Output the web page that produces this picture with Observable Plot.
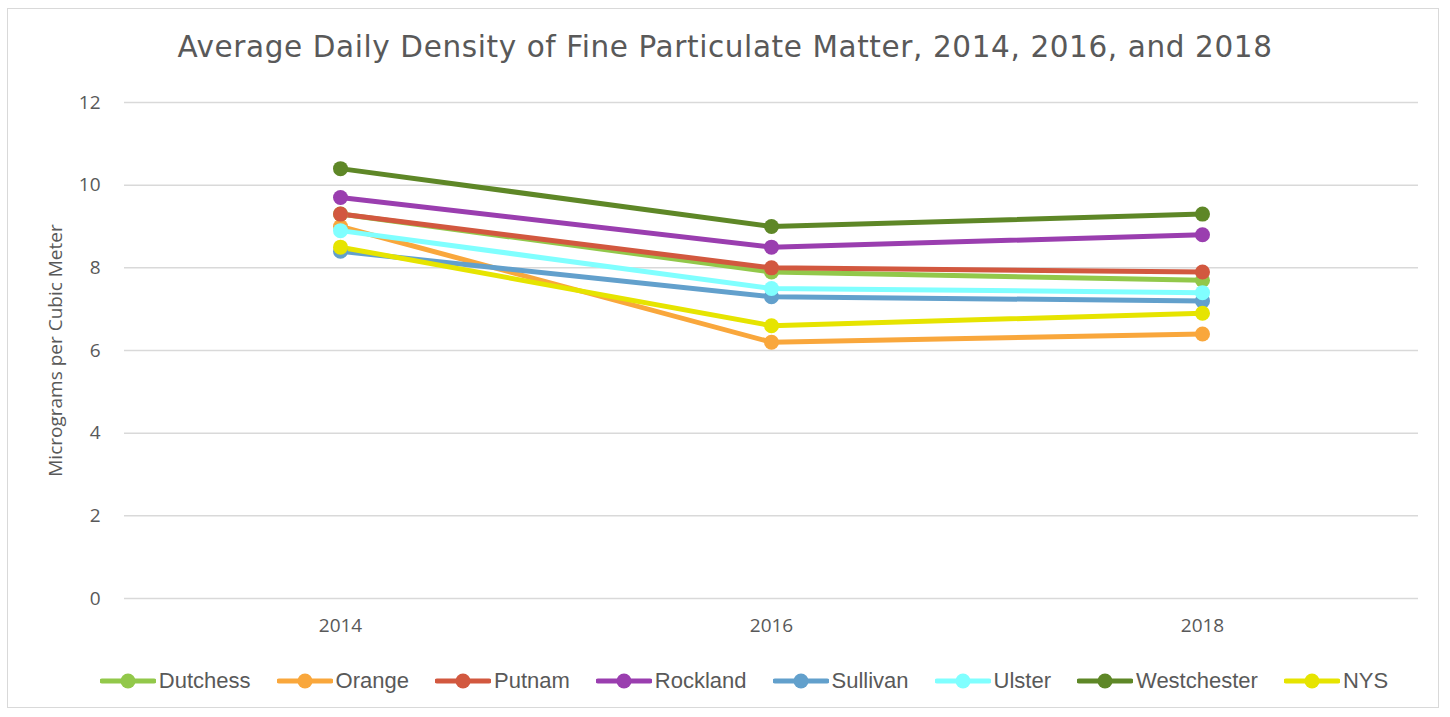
<!DOCTYPE html>
<html>
<head>
<meta charset="utf-8">
<script src="https://cdn.jsdelivr.net/npm/d3@7"></script>
<script src="https://cdn.jsdelivr.net/npm/@observablehq/plot@0.6"></script>
<style>
  html, body { margin: 0; padding: 0; background: #fff; }
  #frame { position: absolute; left: 7px; top: 8px; width: 1432px; height: 700px; border: 1.5px solid #d9d9d9; box-sizing: border-box; }
  #title { position: absolute; left: 0; top: 30px; width: 1450px; text-align: center; font-family: "DejaVu Sans", sans-serif; font-size: 29.5px; color: #595959; letter-spacing: 0.6px; }
  #chart { position: absolute; left: 0; top: 80px; }
  #legend { position: absolute; left: 0; top: 668px; width: 1488px; display: flex; justify-content: center; gap: 26px; font-family: "Liberation Sans Narrow", "Liberation Sans", sans-serif; font-size: 22px; color: #595959; }
  .item { display: flex; align-items: center; gap: 3px; }
</style>
</head>
<body>
<div id="frame"></div>
<div id="title">Average Daily Density of Fine Particulate Matter, 2014, 2016, and 2018</div>
<div id="chart"></div>
<div id="legend"></div>
<script>
const years = ["2014", "2016", "2018"];
const seriesNames = ["Dutchess", "Orange", "Putnam", "Rockland", "Sullivan", "Ulster", "Westchester", "NYS"];
const dutchess = [9.3, 7.9, 7.7];
const orange = [9.0, 6.2, 6.4];
const putnam = [9.3, 8.0, 7.9];
const rockland = [9.7, 8.5, 8.8];
const sullivan = [8.4, 7.3, 7.2];
const ulster = [8.9, 7.5, 7.4];
const westchester = [10.4, 9.0, 9.3];
const nys = [8.5, 6.6, 6.9];
const colors = ["#92C84A", "#F9A73C", "#D2583F", "#9A3EAF", "#62A0CC", "#80FFFF", "#5E8727", "#E6E400"];
const yTicks = [0, 2, 4, 6, 8, 10, 12];

const valueLists = [dutchess, orange, putnam, rockland, sullivan, ulster, westchester, nys];
const data = [];
seriesNames.forEach((s, i) => years.forEach((y, j) => data.push({series: s, year: y, value: valueLists[i][j]})));

const chart = Plot.plot({
  width: 1450,
  height: 580,
  marginLeft: 124,
  marginRight: 32,
  marginTop: 22,
  marginBottom: 62,
  style: {fontFamily: "'Open Sans', sans-serif", fontSize: "19px", color: "#595959", background: "transparent"},
  x: {type: "point", domain: years, padding: 0.5},
  y: {domain: [0, 12]},
  color: {domain: seriesNames, range: colors},
  marks: [
    Plot.gridY(yTicks, {stroke: "#d9d9d9", strokeOpacity: 1, strokeWidth: 1.5}),
    Plot.axisX({tickSize: 0, tickPadding: 20, label: null, fontSize: 19}),
    Plot.axisY(yTicks, {tickSize: 0, tickPadding: 24, label: "Micrograms per Cubic Meter", labelAnchor: "center", labelArrow: "none", labelOffset: 76, fontSize: 19}),
    Plot.line(data, {x: "year", y: "value", z: "series", stroke: "series", strokeWidth: 5, strokeLinejoin: "round"}),
    Plot.dot(data, {x: "year", y: "value", fill: "series", r: 7.5}),
  ]
});
document.getElementById("chart").appendChild(chart);

const legend = document.getElementById("legend");
seriesNames.forEach((s, i) => {
  const item = document.createElement("div");
  item.className = "item";
  item.innerHTML = `<svg width="56" height="18"><line x1="2" y1="9" x2="54" y2="9" stroke="${colors[i]}" stroke-width="5" stroke-linecap="round"/><circle cx="28" cy="9" r="7.5" fill="${colors[i]}"/></svg><span>${s}</span>`;
  legend.appendChild(item);
});
</script>
</body>
</html>
